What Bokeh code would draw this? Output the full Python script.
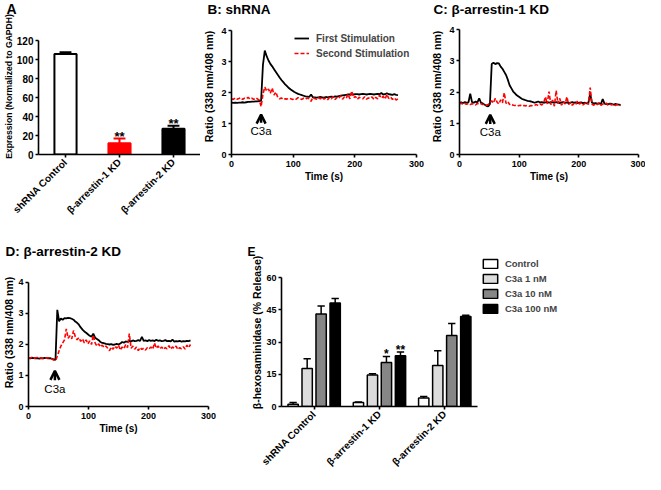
import math
from bokeh.plotting import figure
from bokeh.layouts import column, row
from bokeh.models import (ColumnDataSource, FactorRange, Range1d, FixedTicker,
                          Label, Legend, LegendItem, Arrow, OpenHead)
from bokeh.transform import dodge
from bokeh.core.properties import value
from bokeh.embed import file_html
from bokeh.resources import INLINE

FONT = "Liberation Sans"

# ---------------- data ----------------
# Panel A: knockdown efficiency
knockdown_groups = ["shRNA Control", "β-arrestin-1 KD", "β-arrestin-2 KD"]
expression = [106.0, 12.0, 27.3]
expression_sem = [2.0, 4.8, 3.1]
expression_stars = ["", "**", "**"]
expression_ticks = [0, 20, 40, 60, 80, 100, 120]

# Panels B-D: Ca2+ traces (ratio 338/408 nm) vs time (s)
time_s = [0, 3, 6, 9, 12, 15, 18, 21, 24, 27,
          30, 33, 36, 39, 42, 45, 48, 51, 54, 57,
          60, 63, 66, 69, 72, 75, 78, 81, 84, 87,
          90, 93, 96, 99, 102, 105, 108, 111, 114, 117,
          120, 123, 126, 129, 132, 135, 138, 141, 144, 147,
          150, 153, 156, 159, 162, 165, 168, 171, 174, 177,
          180, 183, 186, 189, 192, 195, 198, 201, 204, 207,
          210, 213, 216, 219, 222, 225, 228, 231, 234, 237,
          240, 243, 246, 249, 252, 255, 258, 261, 264, 267,
          270]

shrna_first = [1.68, 1.67, 1.68, 1.67, 1.68, 1.68, 1.69, 1.68, 1.69, 1.70,
               1.70, 1.71, 1.71, 1.72, 1.72, 1.73, 1.74, 2.90, 3.36, 3.18,
               3.04, 2.93, 2.85, 2.76, 2.67, 2.58, 2.49, 2.41, 2.34, 2.27,
               2.21, 2.15, 2.10, 2.06, 2.02, 1.99, 1.96, 1.94, 1.92, 1.90,
               1.88, 1.87, 1.86, 1.94, 1.85, 1.85, 1.84, 1.85, 1.86, 1.85,
               1.84, 1.86, 1.85, 1.86, 1.87, 1.86, 1.88, 1.87, 1.89, 1.90,
               1.91, 1.92, 1.93, 1.94, 1.94, 1.95, 1.94, 1.95, 1.95, 1.94,
               1.95, 1.96, 1.95, 1.94, 1.95, 1.96, 1.95, 1.94, 1.95, 1.96,
               1.95, 1.99, 1.94, 1.95, 1.98, 1.95, 1.94, 1.93, 1.95, 1.93,
               1.92]
shrna_second = [1.80, 1.78, 1.83, 1.79, 1.81, 1.84, 1.78, 1.82, 1.80, 1.85,
                1.79, 1.82, 1.78, 1.83, 1.80, 1.76, 1.55, 1.95, 2.18, 2.05,
                2.12, 1.98, 2.15, 1.92, 2.02, 1.85, 1.80, 1.83, 1.78, 1.80,
                1.79, 1.82, 1.80, 1.78, 1.81, 1.79, 1.84, 1.80, 1.78, 1.82,
                1.79, 1.83, 1.80, 1.72, 1.85, 1.81, 1.79, 1.84, 1.80, 1.86,
                1.79, 1.83, 1.77, 1.85, 1.80, 1.88, 1.78, 1.84, 1.81, 1.90,
                1.79, 1.86, 1.82, 1.95, 1.80, 2.05, 1.84, 1.88, 1.78, 1.85,
                1.82, 1.80, 1.87, 1.79, 1.83, 1.81, 1.86, 1.78, 1.85, 1.80,
                1.92, 1.82, 1.88, 1.79, 1.95, 1.81, 1.86, 1.78, 1.83, 1.76,
                1.80]
barr1_first = [1.66, 1.67, 1.65, 1.68, 1.66, 1.67, 1.95, 1.68, 1.66, 1.70,
               1.67, 1.80, 1.66, 1.64, 1.60, 1.56, 1.54, 1.62, 2.90, 2.94,
               2.90, 2.93, 2.92, 2.82, 2.75, 2.65, 2.55, 2.40, 2.22, 2.12,
               2.02, 1.96, 1.90, 1.86, 1.82, 1.78, 1.76, 1.74, 1.72, 1.71,
               1.70, 1.68, 1.66, 1.68, 1.70, 1.67, 1.68, 1.66, 1.67, 1.69,
               1.66, 1.68, 1.67, 1.66, 1.68, 1.67, 1.65, 1.67, 1.68, 1.66,
               1.67, 1.65, 1.66, 1.68, 1.66, 1.67, 1.65, 1.66, 1.67, 1.65,
               1.66, 1.64, 1.66, 1.95, 1.66, 1.64, 1.65, 1.63, 1.64, 1.62,
               1.78, 1.63, 1.62, 1.61, 1.63, 1.62, 1.60, 1.62, 1.61, 1.60,
               1.59]
barr1_second = [1.62, 1.65, 1.60, 1.63, 1.61, 1.64, 1.60, 1.63, 1.62, 1.59,
                1.64, 1.61, 1.63, 1.60, 1.62, 1.58, 1.60, 1.66, 1.72, 1.65,
                1.80, 1.68, 1.62, 1.75, 1.66, 1.98, 1.64, 1.70, 1.60, 1.62,
                1.58, 1.57, 1.59, 1.56, 1.58, 1.55, 1.57, 1.56, 1.58, 1.55,
                1.57, 1.56, 1.58, 1.60, 1.57, 1.62, 1.59, 1.65, 1.85, 1.62,
                2.02, 1.60, 1.75, 1.55, 2.05, 1.63, 1.80, 1.58, 1.70, 1.62,
                1.85, 1.60, 1.68, 1.58, 1.64, 1.60, 1.72, 1.62, 1.66, 1.59,
                1.63, 1.68, 1.60, 2.15, 1.62, 1.58, 1.64, 1.60, 1.66, 1.58,
                1.62, 1.60, 1.65, 1.58, 1.62, 1.59, 1.63, 1.57, 1.60, 1.56,
                1.58]
barr2_first = [1.56, 1.55, 1.57, 1.56, 1.55, 1.56, 1.54, 1.56, 1.55, 1.57,
               1.56, 1.55, 1.56, 1.54, 1.52, 1.50, 3.12, 2.75, 2.84, 2.80,
               2.85, 2.84, 2.86, 2.85, 2.83, 2.80, 2.74, 2.70, 2.64, 2.55,
               2.48, 2.42, 2.38, 2.33, 2.28, 2.25, 2.35, 2.22, 2.18, 2.14,
               2.08, 2.05, 2.04, 2.02, 2.01, 2.00, 2.01, 1.99, 2.00, 2.02,
               2.00, 2.03, 2.08, 2.06, 2.10, 2.08, 2.12, 2.10, 2.13, 2.11,
               2.12, 2.14, 2.12, 2.25, 2.12, 2.13, 2.11, 2.14, 2.12, 2.13,
               2.11, 2.15, 2.12, 2.13, 2.11, 2.12, 2.14, 2.11, 2.12, 2.10,
               2.16, 2.09, 2.11, 2.10, 2.12, 2.09, 2.11, 2.10, 2.12, 2.11,
               2.13]
barr2_second = [1.58, 1.56, 1.59, 1.55, 1.57, 1.58, 1.56, 1.57, 1.55, 1.58,
                1.56, 1.57, 1.55, 1.53, 1.50, 1.48, 1.62, 1.80, 1.95, 2.05,
                2.15, 2.50, 2.20, 2.28, 2.18, 2.45, 2.25, 2.15, 2.22, 2.10,
                2.18, 2.05, 2.15, 2.02, 2.12, 2.00, 2.30, 2.05, 1.95, 2.02,
                1.92, 1.98, 1.90, 1.95, 1.88, 1.80, 1.92, 1.85, 1.95, 1.88,
                1.98, 1.82, 1.92, 1.86, 2.00, 1.90, 2.35, 1.88, 1.95, 1.85,
                1.92, 1.80, 1.90, 1.84, 1.88, 1.82, 1.90, 1.86, 1.92, 1.85,
                2.05, 1.88, 1.95, 1.86, 1.92, 1.84, 1.90, 1.86, 1.96, 1.85,
                1.92, 1.88, 1.95, 1.84, 1.90, 1.86, 1.93, 1.85, 1.98, 1.90,
                2.00]
c3a_time = [48, 51.5, 44]          # time of C3a addition in B, C, D
time_ticks = [0, 100, 200, 300]
ratio_ticks = [0, 1, 2, 3, 4]

# Panel E: degranulation
treatments = ["Control", "C3a 1 nM", "C3a 10 nM", "C3a 100 nM"]
release_control = [1.1, 1.9, 3.9]
release_1nM = [17.7, 14.7, 19.1]
release_10nM = [43.0, 20.5, 33.0]
release_100nM = [48.1, 23.6, 41.9]
sem_control = [0.8, 0.2, 0.8]
sem_1nM = [4.5, 0.5, 6.8]
sem_10nM = [3.8, 2.8, 5.6]
sem_100nM = [2.1, 1.7, 0.6]
stars_control = ["", "", ""]
stars_1nM = ["", "", ""]
stars_10nM = ["", "*", ""]
stars_100nM = ["", "**", ""]
release_ticks = [0, 15, 30, 45, 60]


# ---------------- helpers ----------------
def base_fig(x_range, y_range, width, height, left, right, top, bottom):
    p = figure(x_range=x_range, y_range=y_range, width=width, height=height,
               min_border_left=left, min_border_right=right,
               min_border_top=top, min_border_bottom=bottom,
               toolbar_location=None, output_backend="svg")
    p.outline_line_color = None
    p.grid.visible = False
    p.background_fill_color = "white"
    p.border_fill_color = "white"
    for ax in p.axis:
        ax.axis_line_width = 1.6
        ax.axis_line_color = "black"
        ax.major_tick_line_width = 1.6
        ax.major_tick_line_color = "black"
        ax.major_tick_out = 3
        ax.major_tick_in = 0
        ax.minor_tick_line_color = None
        ax.major_label_text_font = FONT
        ax.major_label_text_font_style = "bold"
        ax.major_label_text_color = "black"
        ax.axis_label_text_font = FONT
        ax.axis_label_text_font_style = "bold"
        ax.axis_label_text_color = "black"
    return p


def set_title(p, text, size, offset, valign="top"):
    p.title.text = text
    p.title.align = "left"
    p.title.offset = offset
    p.title.standoff = 0
    p.title.vertical_align = valign
    p.title.text_font = FONT
    p.title.text_font_size = size
    p.title.text_font_style = "bold"
    p.title.text_color = "black"


def trace_fig(width, height, left, right, top, bottom, y_max, first, second,
              stim, arrow_y0, arrow_y1, c3a_y, ylab_standoff):
    p = base_fig(Range1d(0, 300), Range1d(0, y_max), width, height,
                 left, right, top, bottom)
    p.xaxis.ticker = FixedTicker(ticks=time_ticks)
    p.yaxis.ticker = FixedTicker(ticks=ratio_ticks)
    p.yaxis.bounds = (0, 4)
    p.axis.major_label_text_font_size = "9px"
    p.xaxis.major_label_standoff = 3
    p.yaxis.major_label_standoff = 2
    p.xaxis.axis_label = "Time (s)"
    p.xaxis.axis_label_text_font_size = "10px"
    p.xaxis.axis_label_standoff = 1
    p.yaxis.axis_label = "Ratio (338 nm/408 nm)"
    p.yaxis.axis_label_text_font_size = "10.5px"
    p.yaxis.axis_label_standoff = ylab_standoff
    r1 = p.line(time_s, first, line_color="black", line_width=1.8)
    r2 = p.line(time_s, second, line_color="#ff0000", line_width=1.6,
                line_dash="4 2")
    p.add_layout(Arrow(end=OpenHead(size=9, line_width=2.5, line_color="black"),
                       x_start=stim, y_start=arrow_y0, x_end=stim, y_end=arrow_y1,
                       line_width=2.5, line_color="black"))
    p.add_layout(Label(x=stim, y=c3a_y, text="C3a", text_font=FONT,
                       text_font_size="11.5px", text_color="black",
                       text_align="center", text_baseline="middle"))
    return p, r1, r2


# layout: row 1 frames span page y 26..162, row 2 frames 266..414
# ---------------- Panel A ----------------
pA = base_fig(FactorRange(factors=knockdown_groups, range_padding=0),
              Range1d(0, 143.5), 200, 222, 32, 0, 18, 68)
pA.yaxis.ticker = FixedTicker(ticks=expression_ticks)
pA.yaxis.bounds = (0, 120)
pA.xaxis.major_label_orientation = math.pi / 4
pA.axis.major_label_text_font_size = "10px"
pA.yaxis.major_label_standoff = 2
pA.xaxis.major_label_standoff = 3
pA.yaxis.axis_label = "Expression (Normalized to GAPDH)"
pA.yaxis.axis_label_text_font_size = "8.6px"
pA.yaxis.axis_label_standoff = 0
srcA = ColumnDataSource(dict(
    group=knockdown_groups, val=expression,
    top=[v + e for v, e in zip(expression, expression_sem)],
    star=expression_stars))
srcA.data["fill"] = ["white", "#ff0000", "black"]
srcA.data["edge"] = ["black", "#ff0000", "black"]
pA.vbar(x="group", top="val", width=0.41, source=srcA, fill_color="fill",
        line_color="edge", line_width=2)
pA.segment(x0="group", y0="val", x1="group", y1="top", source=srcA,
           line_color="edge", line_width=2)
pA.segment(x0=dodge("group", -0.11, range=pA.x_range), y0="top",
           x1=dodge("group", 0.11, range=pA.x_range), y1="top", source=srcA,
           line_color="edge", line_width=2)
pA.text(x="group", y="top", text="star", source=srcA, text_align="center",
        text_baseline="alphabetic", y_offset=-2, text_font=value(FONT),
        text_font_style="bold", text_font_size="13px", text_color="black")
set_title(pA, "A", "14px", -32)

# ---------------- Panel B ----------------
pB, b1, b2 = trace_fig(228, 222, 29, 12, 18, 68, 4.398, shrna_first,
                       shrna_second, c3a_time[0], 1.03, 1.29, 0.75, 3)
legB = Legend(items=[LegendItem(label="First Stimulation", renderers=[b1]),
                     LegendItem(label="Second Stimulation", renderers=[b2])],
              location=(63, 95), orientation="vertical", glyph_width=15,
              glyph_height=12, label_height=12, spacing=3, padding=0, margin=0,
              label_standoff=7, border_line_color=None,
              background_fill_alpha=0, label_text_font=FONT,
              label_text_font_style="bold", label_text_font_size="10px")
pB.add_layout(legB)
set_title(pB, "B: shRNA", "13.5px", -24)

# ---------------- Panel C ----------------
pC, _, _ = trace_fig(217, 222, 28, 7, 18, 68, 4.362, barr1_first,
                     barr1_second, c3a_time[1], 0.98, 1.27, 0.71, 3)
set_title(pC, "C: β-arrestin-1 KD", "13.5px", -26)

# ---------------- Panel D ----------------
pD, _, _ = trace_fig(240, 252, 23, 32, 36, 68, 4.774, barr2_first,
                     barr2_second, c3a_time[2], 0.85, 1.15, 0.56, 0)
set_title(pD, "D: β-arrestin-2 KD", "13.5px", -23, valign="bottom")

# ---------------- Panel E ----------------
group_pos = list(range(len(knockdown_groups)))
pE = base_fig(Range1d(-0.5, 5.074), Range1d(0, 68.84), 405, 252, 41, 0, 36, 68)
pE.xaxis.ticker = FixedTicker(ticks=group_pos)
pE.xaxis.major_label_overrides = {i: g for i, g in zip(group_pos, knockdown_groups)}
pE.xaxis.bounds = (-0.5, 2.5)
pE.yaxis.ticker = FixedTicker(ticks=release_ticks)
pE.yaxis.bounds = (0, 60)
pE.xaxis.major_label_orientation = math.pi / 4
pE.yaxis.major_label_text_font_size = "9px"
pE.xaxis.major_label_text_font_size = "10px"
pE.yaxis.major_label_standoff = 2
pE.xaxis.major_label_standoff = 3
pE.yaxis.axis_label = "β-hexosaminidase (% Release)"
pE.yaxis.axis_label_text_font_size = "10.5px"
pE.yaxis.axis_label_standoff = 0

offsets = [-0.322, -0.107, 0.107, 0.322]
colorsE = ["white", "#dcdcdc", "#868686", "black"]
seriesE = [release_control, release_1nM, release_10nM, release_100nM]
semsE = [sem_control, sem_1nM, sem_10nM, sem_100nM]
starsE = [stars_control, stars_1nM, stars_10nM, stars_100nM]
itemsE = []
for name, vals, sem, st, off, col in zip(treatments, seriesE, semsE, starsE,
                                         offsets, colorsE):
    src = ColumnDataSource(dict(pos=group_pos, val=vals,
                                top=[v + e for v, e in zip(vals, sem)], star=st))
    r = pE.vbar(x=dodge("pos", off), top="val", width=0.158, source=src,
                fill_color=col, line_color="black", line_width=1.5)
    pE.segment(x0=dodge("pos", off), y0="val", x1=dodge("pos", off), y1="top",
               source=src, line_color="black", line_width=1.5)
    pE.segment(x0=dodge("pos", off - 0.056), y0="top",
               x1=dodge("pos", off + 0.056), y1="top",
               source=src, line_color="black", line_width=1.5)
    pE.text(x=dodge("pos", off), y="top", text="star", source=src,
            text_align="center", text_baseline="alphabetic", y_offset=-2,
            text_font=value(FONT), text_font_style="bold",
            text_font_size="12px", text_color="black")
    itemsE.append(LegendItem(label=name, renderers=[r]))

legE = Legend(items=itemsE, location=(199.9, 92), orientation="vertical",
              glyph_width=18, glyph_height=11, label_height=11, spacing=4,
              padding=0, margin=0, label_standoff=6, border_line_color=None,
              background_fill_alpha=0, label_text_font=FONT,
              label_text_font_style="bold", label_text_font_size="9.5px")
pE.add_layout(legE)
set_title(pE, "E", "12px", -34, valign="bottom")

layout = column(row(pA, pB, pC), row(pD, pE))
open("out.html", "w").write(file_html(layout, INLINE))
